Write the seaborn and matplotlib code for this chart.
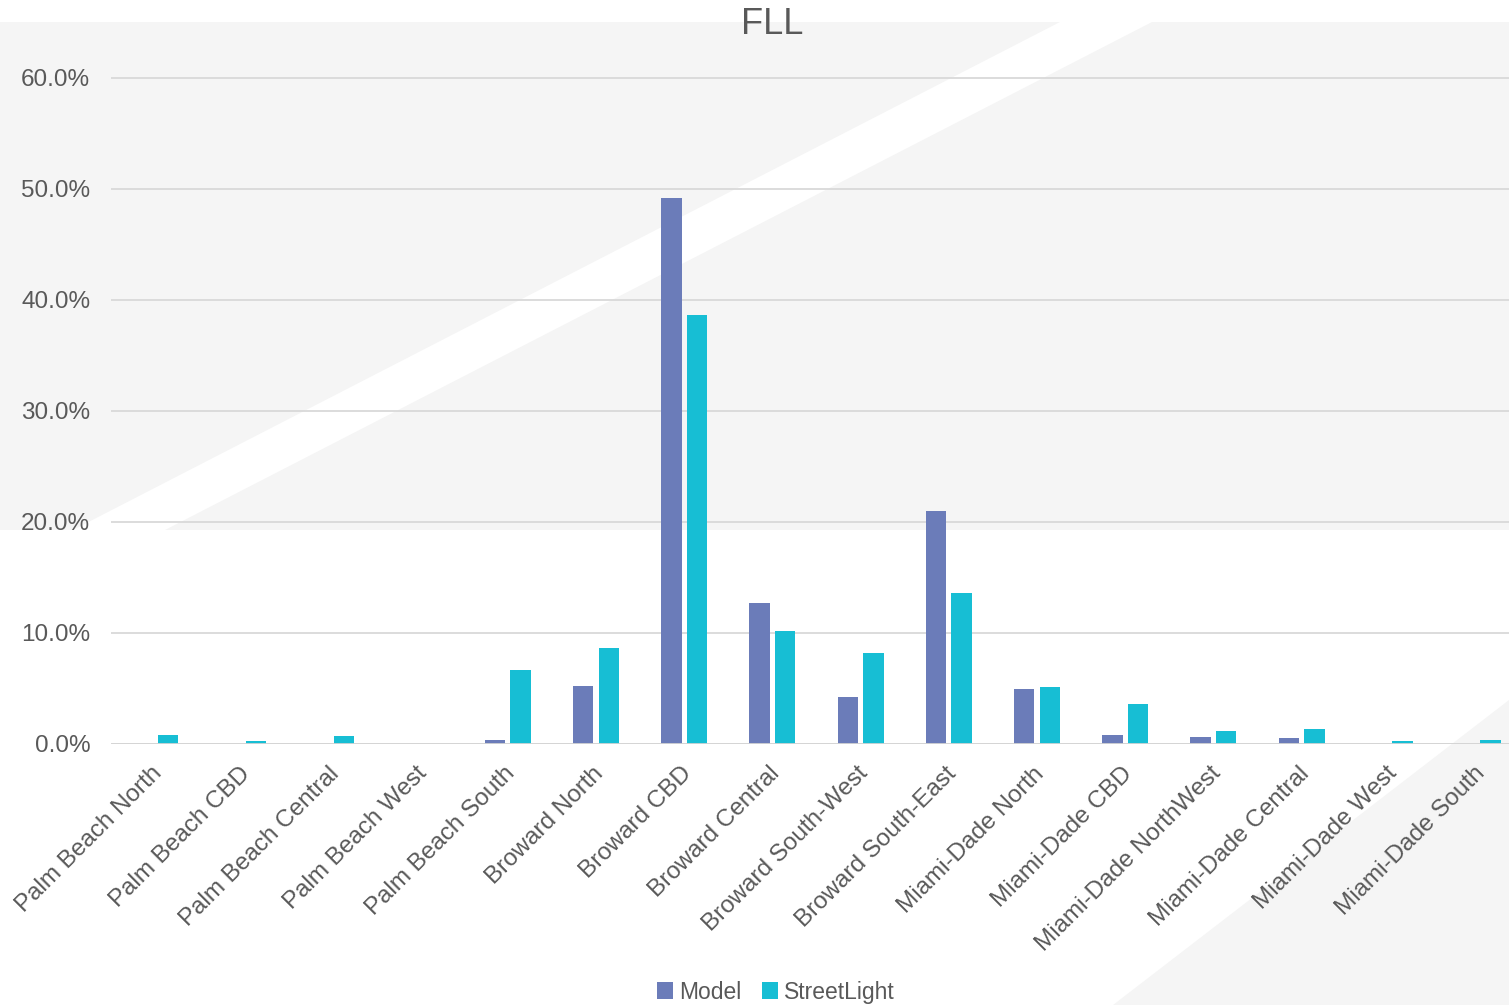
import pandas as pd
import numpy as np
import matplotlib
matplotlib.use("Agg")
import matplotlib.pyplot as plt
import matplotlib.transforms as mtransforms
from matplotlib.patches import Polygon, Patch
from matplotlib.ticker import PercentFormatter
import seaborn as sns

# Districts (x categories)
districts = [
    "Palm Beach North", "Palm Beach CBD", "Palm Beach Central", "Palm Beach West",
    "Palm Beach South", "Broward North", "Broward CBD", "Broward Central",
    "Broward South-West", "Broward South-East", "Miami-Dade North", "Miami-Dade CBD",
    "Miami-Dade NorthWest", "Miami-Dade Central", "Miami-Dade West", "Miami-Dade South",
]

# share of trips, in percent
model_pct = [0.0, 0.0, 0.0, 0.0, 0.36, 5.2, 49.2, 12.7, 4.2, 21.0, 4.95, 0.8, 0.6, 0.55, 0.0, 0.0]
streetlight_pct = [0.78, 0.27, 0.75, 0.0, 6.7, 8.65, 38.65, 10.2, 8.2, 13.6, 5.1, 3.6, 1.15, 1.35, 0.3, 0.35]

series_names = ["Model", "StreetLight"]
colors = {"Model": "#6B7CB9", "StreetLight": "#17BED4"}

W, H = 1509, 1005
TEXT = "#595959"
BG = "#F5F5F5"


def px(x, y):
    """pixel coords (from top-left) -> figure fraction"""
    return (x / W, 1 - y / H)


df = pd.DataFrame({
    "district": districts * 2,
    "series": [series_names[0]] * len(districts) + [series_names[1]] * len(districts),
    "value": model_pct + streetlight_pct,
})

sns.set_style("white")
plt.rcParams['font.family'] = ['Liberation Sans', 'DejaVu Sans']

fig = plt.figure(figsize=(W / 100, H / 100), dpi=100)
fig.patch.set_facecolor("white")

# decorative background
fig.add_artist(Polygon([px(0, 22), px(W, 22), px(W, 530), px(0, 530)],
                       closed=True, transform=fig.transFigure, facecolor=BG,
                       edgecolor="none", zorder=-3))
fig.add_artist(Polygon([px(1060, 22), px(1152, 22), px(165, 530), px(73, 530)],
                       closed=True, transform=fig.transFigure, facecolor="white",
                       edgecolor="none", zorder=-2))
fig.add_artist(Polygon([px(1113, H), px(W, 700), px(W, H)],
                       closed=True, transform=fig.transFigure, facecolor=BG,
                       edgecolor="none", zorder=-2))

ax = fig.add_axes([111 / W, 1 - 744 / H, 1411 / W, (744 - 22) / H])
ax.set_facecolor("none")

sns.barplot(data=df, x="district", y="value", hue="series", hue_order=series_names,
            palette=colors, saturation=1, width=0.58, gap=0.2, linewidth=0,
            ax=ax, legend=True, errorbar=None)

ax.set_ylim(0, 65)
ax.set_xlim(-0.5, len(districts) - 0.5)
ax.set_yticks(np.arange(0, 61, 10))
ax.yaxis.set_major_formatter(PercentFormatter(xmax=100, decimals=1))
ax.yaxis.grid(True, color="#D9D9D9", linewidth=1.3)
ax.set_axisbelow(True)
ax.axhline(0, color="#D5D5D5", linewidth=2, zorder=1)
for s in ax.spines.values():
    s.set_visible(False)
ax.set_xlabel("")
ax.set_ylabel("")
ax.tick_params(axis="y", length=0, pad=15, labelsize=17.5, labelcolor=TEXT)
ax.tick_params(axis="x", length=0, pad=19, labelsize=17.5, labelcolor=TEXT)
shift = mtransforms.ScaledTranslation(4 / 100, 0, fig.dpi_scale_trans)
for lab in ax.get_xticklabels():
    lab.set_rotation(45)
    lab.set_ha("right")
    lab.set_va("center")
    lab.set_rotation_mode("anchor")
    lab.set_transform(lab.get_transform() + shift)

# title
fig.text(772 / W, 1 - 24 / H, "FLL", ha="center", va="center", fontsize=26, color=TEXT)

# legend at the bottom
ax.get_legend().remove()
handles = [Patch(facecolor=colors[n], edgecolor="none") for n in series_names]
fig.legend(handles, series_names, loc="center", bbox_to_anchor=px(776, 992), ncol=2,
           frameon=False, fontsize=16.5, labelcolor=TEXT, handlelength=0.7,
           handleheight=0.7, handletextpad=0.25, columnspacing=0.9)

fig.savefig("out.png", dpi=100)
